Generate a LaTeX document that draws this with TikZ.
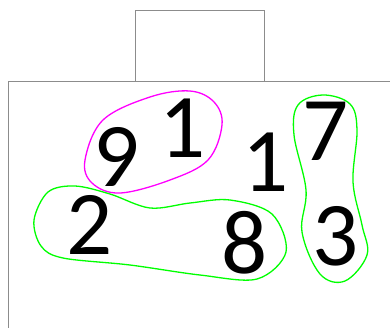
\documentclass[tikz,border=0pt]{standalone}
\usepackage{fontspec}
\setmainfont{Carlito}
\definecolor{loopmag}{RGB}{255,0,255}
\definecolor{loopgrn}{RGB}{0,255,0}
\definecolor{framegray}{RGB}{140,140,140}
\begin{document}
\begin{tikzpicture}[x=1pt,y=-1pt,
  digit/.style={inner sep=0pt,font=\fontsize{91}{91}\selectfont,text=black},
  frame/.style={draw=framegray,line width=1.3pt},
  magloop/.style={draw=loopmag,line width=1.3pt},
  grnloop/.style={draw=loopgrn,line width=1.3pt}]
\useasboundingbox (0,0) rectangle (390,327);
\clip (0,0) rectangle (390,327);
\fill[white] (0,0) rectangle (390,327);
\draw[frame] (8.5,340) -- (8.5,81.5) -- (400,81.5);
\draw[frame] (135.5,81.5) -- (135.5,10.5) -- (264.5,10.5) -- (264.5,81.5);
\node[digit] (n9) at (117,157) {9};
\node[digit] (n1a) at (183,128) {1};
\node[digit] (n1b) at (266,162) {1};
\node[digit] (n7) at (326,131) {7};
\node[digit] (n3) at (336,236) {3};
\node[digit] (n8) at (245,243) {8};
\node[digit] (n2) at (90,225) {2};
\draw[magloop] plot[smooth cycle,tension=0.6] coordinates {(85,160) (103,120) (150,97) (190,91) (214,102) (222,125) (208,160) (170,180) (120,193) (92,183)};
\draw[grnloop] plot[smooth cycle,tension=0.55] coordinates {(34,220) (48,192) (75,186) (110,194) (150,208) (190,203) (230,200) (272,214) (286,252) (257,279) (200,275) (130,265) (63,258) (41,246)};
\draw[grnloop] plot[smooth cycle,tension=0.6] coordinates {(323,95) (350,104) (357,130) (353,182) (362,225) (367,255) (345,281) (320,274) (302,232) (306,190) (294,135) (298,105)};
\end{tikzpicture}
\end{document}
